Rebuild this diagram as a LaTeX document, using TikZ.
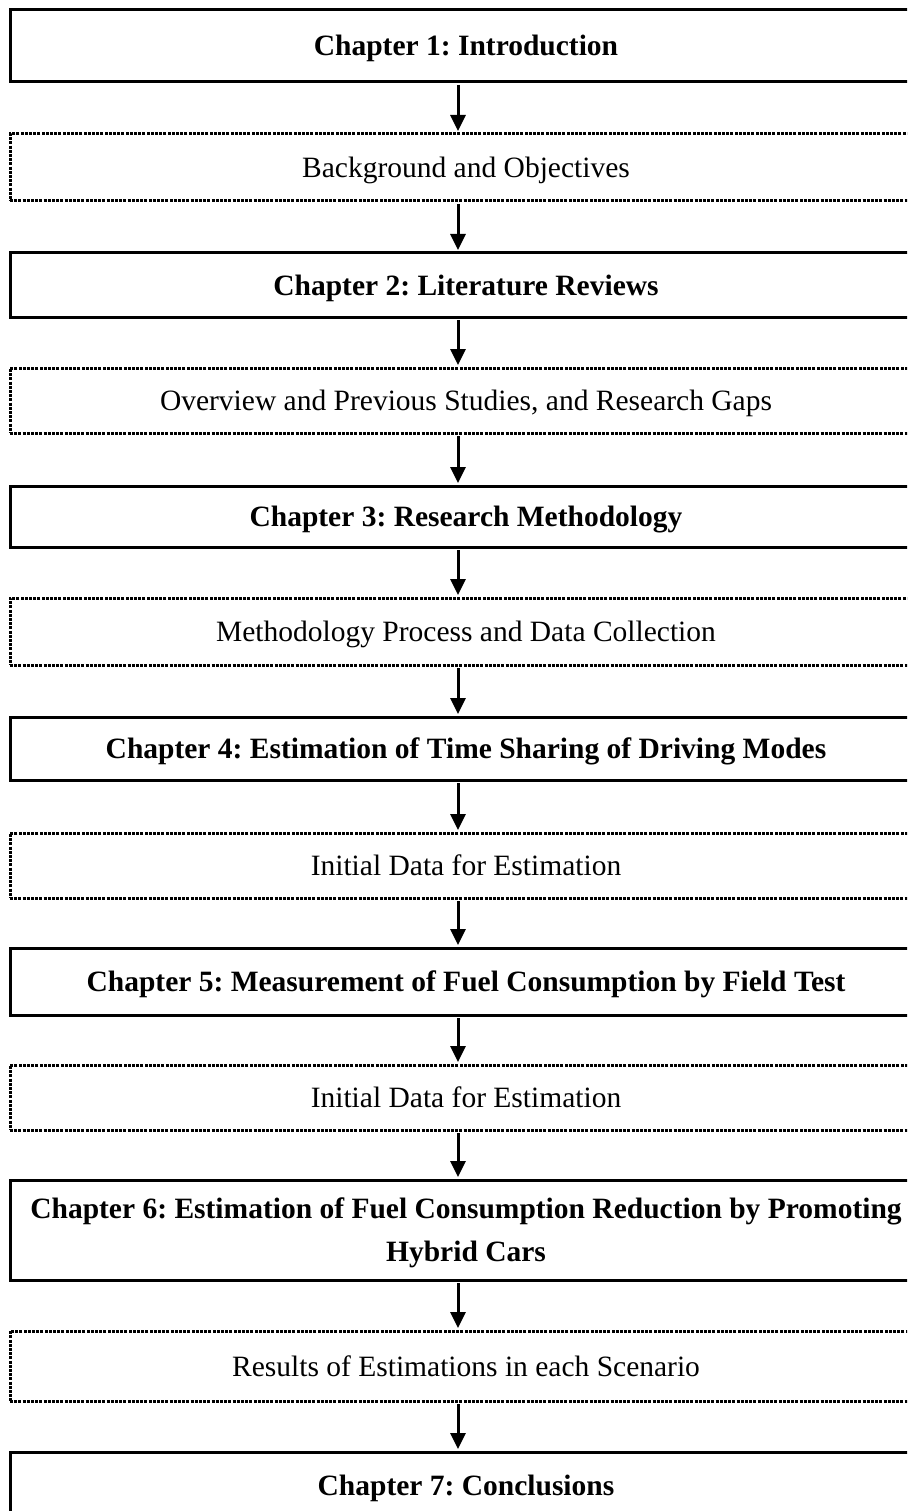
\documentclass[tikz,border=0pt]{standalone}
\usepackage{fontspec}
\setmainfont{Liberation Serif}
\usetikzlibrary{arrows.meta}
\frenchspacing

\tikzset{
  chapterbox/.style={draw, line width=3pt, minimum width=912pt, inner sep=0pt,
    text height=20pt, text depth=0pt,
    font=\fontsize{29.5}{43}\selectfont\bfseries},
  contentbox/.style={draw, line width=3pt, dash pattern=on 3pt off 1.2pt,
    minimum width=912pt, inner sep=0pt, text height=20pt, text depth=0pt,
    font=\fontsize{29.5}{43}\selectfont},
  flow/.style={line width=3pt, shorten <=1.5pt, shorten >=1.5pt,
    -{Triangle[width=15pt,length=16pt]}}
}

\begin{document}
\begin{tikzpicture}[x=1pt, y=-1pt]
\useasboundingbox (0,0) rectangle (907,1511);
\clip (0,0) rectangle (907,1511);
\fill[white] (0,0) rectangle (907,1511);

% chapters (solid frames) and their contents (dotted frames)
\node[chapterbox, minimum height=72pt] (ch1) at (466,46)     {Chapter 1: Introduction};
\node[contentbox, minimum height=67pt] (d1)  at (466,167.5)  {Background and Objectives};
\node[chapterbox, minimum height=64pt] (ch2) at (466,285)    {Chapter 2: Literature Reviews};
\node[contentbox, minimum height=65pt] (d2)  at (466,400.5)  {Overview and Previous Studies, and Research Gaps};
\node[chapterbox, minimum height=61pt] (ch3) at (466,516.5)  {Chapter 3: Research Methodology};
\node[contentbox, minimum height=67pt] (d3)  at (466,631.5)  {Methodology Process and Data Collection};
\node[chapterbox, minimum height=63pt] (ch4) at (466,748.5)  {Chapter 4: Estimation of Time Sharing of Driving Modes};
\node[contentbox, minimum height=65pt] (d4)  at (466,865.5)  {Initial Data for Estimation};
\node[chapterbox, minimum height=67pt] (ch5) at (466,981.5)  {Chapter 5: Measurement of Fuel Consumption by Field Test};
\node[contentbox, minimum height=65pt] (d5)  at (466,1097.5) {Initial Data for Estimation};
\node[chapterbox, minimum height=100pt, align=center, text height=63pt, text depth=0pt] (ch6) at (466,1230)
  {Chapter 6: Estimation of Fuel Consumption Reduction by Promoting\\Hybrid Cars};
\node[contentbox, minimum height=70pt] (d6)  at (466,1366)   {Results of Estimations in each Scenario};
\node[chapterbox, minimum height=66pt] (ch7) at (466,1485)   {Chapter 7: Conclusions};

% downward flow between consecutive boxes
\foreach \a/\b in {ch1/d1, d1/ch2, ch2/d2, d2/ch3, ch3/d3, d3/ch4, ch4/d4,
                   d4/ch5, ch5/d5, d5/ch6, ch6/d6, d6/ch7}
  \draw[flow] ([xshift=-8pt]\a.south) -- ([xshift=-8pt]\b.north);
\end{tikzpicture}
\end{document}
